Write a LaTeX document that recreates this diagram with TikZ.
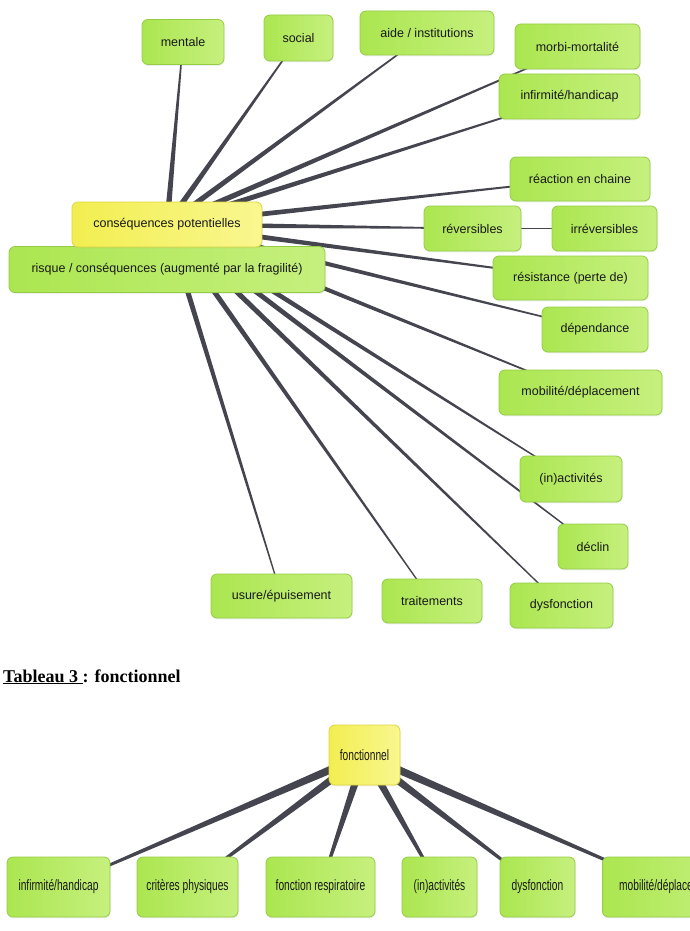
\documentclass[tikz,border=0pt]{standalone}
\usepackage{fontspec}
\setmainfont{Liberation Serif}
\newfontfamily\mapfont{Liberation Sans}
\newfontfamily\narrowfont[FakeStretch=0.68]{Liberation Sans}
\usepackage{xcolor}
\usetikzlibrary{calc,backgrounds,shadows}

\definecolor{leafgreen}{HTML}{ABE650}
\definecolor{leaflight}{HTML}{C6F07E}
\definecolor{leafedge}{HTML}{94CC44}
\definecolor{hubyellow}{HTML}{F2EE50}
\definecolor{hublight}{HTML}{F9F790}
\definecolor{hubedge}{HTML}{DDD53E}
\definecolor{spokegray}{HTML}{45454F}

\tikzset{
  wh/.style 2 args={minimum width=#1pt, minimum height=#2pt},
  leaf/.style={draw=leafedge, line width=0.8pt, rounded corners=6pt,
    left color=leafgreen, right color=leaflight, inner sep=0pt,
    text=black!90, font=\mapfont\fontsize{12.5}{14}\selectfont,
    drop shadow={opacity=0.12, shadow xshift=0.6pt, shadow yshift=-1.4pt}},
  hub/.style={leaf, draw=hubedge, left color=hubyellow, right color=hublight},
  bleaf/.style={leaf, font=\narrowfont\fontsize{15}{16}\selectfont}
}

% tapered spoke: from, to, half width at hub, half width at leaf
\newcommand{\spoke}[4]{%
  \fill[spokegray] ($(#1)!#3!90:(#2)$) -- ($(#2)!#4!-90:(#1)$)
    -- ($(#2)!#4!90:(#1)$) -- ($(#1)!#3!-90:(#2)$) -- cycle;}

\begin{document}
\begin{tikzpicture}[x=1pt, y=-1pt]
  \useasboundingbox (0,0) rectangle (689,931);

  % Tableau 2 style map : consequences
  \node[leaf, wh={82}{45}] (mentale) at (183,42) {mentale};
  \node[leaf, wh={69}{46}] (social) at (298.5,38) {social};
  \node[leaf, wh={134}{44}] (aide) at (427,33) {aide / institutions};
  \node[leaf, wh={125}{45}] (morbi) at (577.5,46.5) {morbi-mortalité};
  \node[leaf, wh={141}{45}] (infirm) at (569.5,96.5) {infirmité/handicap};
  \node[leaf, wh={140}{44}] (reaction) at (580,179) {réaction en chaine};
  \node[leaf, wh={97}{45}] (rev) at (472.5,228.5) {réversibles};
  \node[leaf, wh={105}{45}] (irrev) at (604.5,228.5) {irréversibles};
  \node[leaf, wh={155}{44}] (resist) at (570.5,278) {résistance (perte de)};
  \node[leaf, wh={106}{45}] (depend) at (595,329.5) {dépendance};
  \node[leaf, wh={163}{45}] (mobil) at (580.5,392.5) {mobilité/déplacement};
  \node[leaf, wh={102}{46}] (inact) at (571,479) {(in)activités};
  \node[leaf, wh={70}{45}] (declin) at (593,546.5) {déclin};
  \node[leaf, wh={100}{44}] (traite) at (432,601) {traitements};
  \node[leaf, wh={103}{45}] (dysf) at (561.5,605.5) {dysfonction};
  \node[leaf, wh={141}{44}] (usure) at (281.5,596) {usure/épuisement};
  \node[leaf, wh={316}{46}] (risque) at (167,269.5) {risque / conséquences (augmenté par la fragilité)};
  \node[hub, wh={190}{45}] (conseq) at (167,224.5) {conséquences potentielles};

  \node[anchor=base west, inner sep=0pt, font=\bfseries\fontsize{18}{20}\selectfont]
    (title) at (3,682) {\underline{Tableau 3\ }: fonctionnel};

  % Tableau 3 : fonctionnel
  \node[hub, font=\narrowfont\fontsize{15}{16}\selectfont, wh={71}{60}] (fonct) at (364.5,755) {fonctionnel};
  \node[bleaf, wh={103}{60}] (binfirm) at (58.5,887) {infirmité/handicap};
  \node[bleaf, wh={101}{60}] (criteres) at (187.5,887) {critères physiques};
  \node[bleaf, wh={109}{60}] (fresp) at (320.5,887) {fonction respiratoire};
  \node[bleaf, wh={75}{60}] (binact) at (439.5,887) {(in)activités};
  \node[bleaf, wh={75}{60}] (bdysf) at (537.5,887) {dysfonction};
  \node[bleaf, wh={130}{60}, anchor=west, inner xsep=12pt] (bmobil) at (602,887) {mobilité/déplacement};

  \begin{scope}[on background layer]
    \fill[white] (0,0) rectangle (689,931);
    \foreach \leaf in {mentale,social,aide,morbi,infirm,reaction,rev,resist,
                       depend,mobil,inact,declin,traite,dysf,usure}
      \spoke{conseq}{\leaf}{3pt}{0.5pt};
    \draw[spokegray, line width=0.8pt] (rev) -- (irrev);
    \foreach \leaf in {binfirm,criteres,fresp,binact,bdysf,bmobil}
      \spoke{fonct}{\leaf}{4.2pt}{0.9pt};
  \end{scope}
\end{tikzpicture}
\end{document}
